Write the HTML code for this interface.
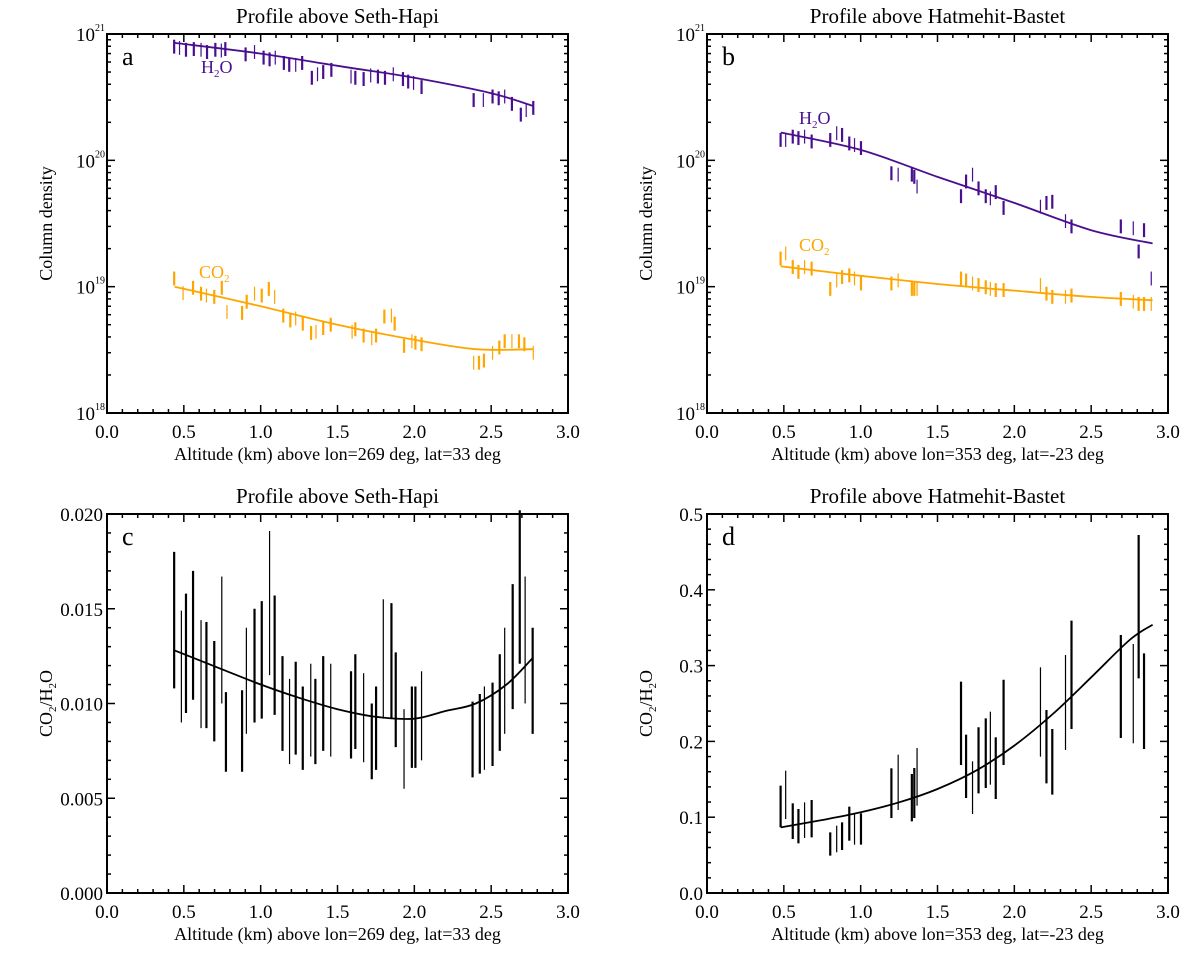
<!DOCTYPE html>
<html><head><meta charset="utf-8"><style>
html,body{margin:0;padding:0;background:#fff}
svg{display:block;font-family:"Liberation Serif",serif}
</style></head><body>
<svg id="chart" width="1200" height="961" viewBox="0 0 1200 961" xmlns="http://www.w3.org/2000/svg"></svg>
<script>
// ---------- Panel a data (Seth-Hapi) ----------
const aH2Ox=[0.437,0.472,0.514,0.565,0.612,0.651,0.705,0.744,0.770,0.902,0.960,1.019,1.058,1.095,1.151,1.186,1.228,1.270,1.333,1.370,1.407,1.460,1.588,1.616,1.670,1.716,1.763,1.809,1.863,1.926,1.960,1.995,2.047,2.386,2.449,2.509,2.549,2.588,2.635,2.693,2.728,2.774];
const aH2Oy=[7.94,7.76,7.5,7.6,7.5,7.2,7.5,7.4,7.6,6.9,7.2,6.5,6.3,6.5,5.9,5.7,5.7,5.9,4.5,4.8,5.0,5.2,4.6,4.5,4.4,4.7,4.6,4.5,4.8,4.4,4.2,4.1,3.8,3.0,3.0,3.2,3.1,3.2,2.8,2.3,2.5,2.6]; // x1e20
const aH2OfitX=[0.44,1.0,1.5,2.0,2.5,2.77];
const aH2OfitY=[8.5,7.0,5.6,4.5,3.4,2.7];
const aCO2x=[0.437,0.495,0.56,0.612,0.647,0.698,0.747,0.781,0.879,0.909,0.960,1.007,1.053,1.091,1.147,1.193,1.228,1.274,1.328,1.360,1.407,1.456,1.595,1.616,1.670,1.723,1.751,1.805,1.851,1.872,1.933,1.984,2.007,2.047,2.386,2.421,2.453,2.509,2.553,2.588,2.635,2.681,2.716,2.774];
const aCO2y=[1.16,0.89,0.98,0.88,0.85,0.83,0.98,0.63,0.62,0.76,0.88,0.85,0.96,0.83,0.59,0.54,0.56,0.51,0.43,0.44,0.47,0.50,0.44,0.46,0.41,0.39,0.41,0.58,0.59,0.51,0.34,0.37,0.36,0.35,0.25,0.25,0.26,0.30,0.33,0.37,0.37,0.37,0.35,0.30]; // x1e19
const aCO2fitX=[0.44,1.0,1.5,2.0,2.4,2.77];
const aCO2fitY=[1.0,0.70,0.50,0.38,0.32,0.32];
// ---------- Panel b data (Hatmehit-Bastet) ----------
const bH2Ox=[0.479,0.512,0.558,0.595,0.635,0.681,0.802,0.844,0.879,0.926,0.960,1.002,1.200,1.244,1.333,1.349,1.367,1.653,1.686,1.728,1.767,1.814,1.844,1.879,1.930,2.170,2.209,2.247,2.333,2.372,2.693,2.774,2.844,2.809,2.891];
const bH2Oy=[1.45,1.45,1.54,1.50,1.54,1.41,1.45,1.64,1.59,1.36,1.32,1.25,0.79,0.77,0.77,0.74,0.62,0.52,0.68,0.77,0.60,0.52,0.50,0.56,0.42,0.43,0.46,0.47,0.33,0.30,0.30,0.29,0.28,0.19,0.116]; // x1e20
const bH2OfitX=[0.48,1.0,1.5,2.0,2.5,2.9];
const bH2OfitY=[1.66,1.21,0.74,0.46,0.28,0.22];
const bCO2x=[0.479,0.512,0.558,0.595,0.635,0.681,0.802,0.844,0.879,0.926,0.960,1.002,1.200,1.244,1.333,1.349,1.367,1.653,1.686,1.728,1.767,1.814,1.844,1.879,1.930,2.170,2.209,2.247,2.333,2.372,2.693,2.774,2.809,2.844,2.891];
const bCO2y=[1.67,1.83,1.43,1.31,1.43,1.39,0.96,1.12,1.19,1.23,1.16,1.06,1.06,1.12,0.96,0.96,0.96,1.16,1.12,1.06,1.03,0.99,0.96,0.94,0.94,1.03,0.88,0.83,0.83,0.85,0.80,0.76,0.73,0.73,0.73]; // x1e19
const bCO2fitX=[0.48,1.0,1.5,2.0,2.5,2.9];
const bCO2fitY=[1.45,1.22,1.05,0.93,0.83,0.78];
// ---------- Panel c data (ratio, Seth-Hapi) ----------
const cX=[0.437,0.484,0.514,0.560,0.612,0.647,0.698,0.747,0.774,0.879,0.907,0.960,1.007,1.058,1.091,1.142,1.188,1.228,1.274,1.326,1.356,1.407,1.456,1.588,1.616,1.670,1.723,1.751,1.798,1.851,1.879,1.933,1.984,2.007,2.047,2.379,2.426,2.456,2.509,2.556,2.588,2.640,2.686,2.721,2.770];
const cHi=[0.0180,0.0149,0.0158,0.0170,0.0144,0.0143,0.0133,0.0167,0.0106,0.0107,0.0140,0.0150,0.0154,0.0191,0.0157,0.0125,0.0113,0.0122,0.0109,0.0121,0.0113,0.0125,0.0121,0.0117,0.0126,0.0116,0.0100,0.0109,0.0155,0.0153,0.0127,0.0097,0.0109,0.0109,0.0117,0.0101,0.0105,0.0109,0.0111,0.0126,0.0140,0.0163,0.0202,0.0167,0.0140];
const cLo=[0.0108,0.0090,0.0095,0.0102,0.0087,0.0087,0.0080,0.0100,0.0064,0.0064,0.0084,0.0090,0.0092,0.0115,0.0094,0.0075,0.0068,0.0073,0.0065,0.0072,0.0068,0.0075,0.0072,0.0071,0.0076,0.0069,0.0060,0.0065,0.0092,0.0092,0.0077,0.0055,0.0066,0.0066,0.0070,0.0061,0.0063,0.0065,0.0067,0.0075,0.0084,0.0097,0.0121,0.0100,0.0084];
const cFitX=[0.44,0.75,1.0,1.25,1.5,1.75,2.0,2.2,2.4,2.6,2.77];
const cFitY=[0.0128,0.0118,0.0110,0.0103,0.0097,0.0093,0.0092,0.0096,0.0100,0.0110,0.0124];
// ---------- Panel d data (ratio, Hatmehit-Bastet) ----------
const dX=[0.479,0.512,0.558,0.595,0.635,0.681,0.802,0.844,0.879,0.926,0.960,1.002,1.200,1.244,1.333,1.349,1.367,1.653,1.686,1.728,1.767,1.814,1.844,1.879,1.930,2.170,2.209,2.247,2.333,2.372,2.693,2.774,2.809,2.844];
const dHi=[0.1416,0.1614,0.1183,0.1108,0.1196,0.1227,0.0800,0.0888,0.0932,0.1139,0.1051,0.1051,0.1645,0.1825,0.1570,0.1649,0.1913,0.2788,0.2089,0.1737,0.2186,0.2304,0.2392,0.2054,0.2814,0.2977,0.2414,0.2164,0.3140,0.3593,0.3404,0.3285,0.4723,0.3162];
const dLo=[0.0866,0.0976,0.0712,0.0655,0.0726,0.0734,0.0493,0.0537,0.0567,0.0690,0.0638,0.0638,0.0989,0.1095,0.0945,0.0989,0.1152,0.1689,0.1253,0.1042,0.1315,0.1385,0.1429,0.1240,0.1689,0.1799,0.1447,0.1297,0.1887,0.2164,0.2045,0.1975,0.2832,0.1900];
const dFitX=[0.48,0.75,1.0,1.25,1.5,1.75,2.0,2.25,2.5,2.75,2.9];
const dFitY=[0.0866,0.0963,0.1064,0.1196,0.1372,0.1614,0.1944,0.2361,0.2845,0.3338,0.354];

const NS="http://www.w3.org/2000/svg";
const svg=document.getElementById('chart');
function el(tag,attrs,parent){const e=document.createElementNS(NS,tag);for(const k in attrs)e.setAttribute(k,attrs[k]);(parent||svg).appendChild(e);return e;}
const PURPLE="#4a0f8f", ORANGE="#ffa500";
const ERR=0.055; // half error-bar length in dex for density panels

function smoothPath(pts){
  let d='M'+pts[0][0].toFixed(1)+','+pts[0][1].toFixed(1);
  for(let i=0;i<pts.length-1;i++){
    const p0=pts[i-1]||pts[i],p1=pts[i],p2=pts[i+1],p3=pts[i+2]||p2;
    const c1x=p1[0]+(p2[0]-p0[0])/6,c1y=p1[1]+(p2[1]-p0[1])/6;
    const c2x=p2[0]-(p3[0]-p1[0])/6,c2y=p2[1]-(p3[1]-p1[1])/6;
    d+=` C${c1x.toFixed(1)},${c1y.toFixed(1)} ${c2x.toFixed(1)},${c2y.toFixed(1)} ${p2[0].toFixed(1)},${p2[1].toFixed(1)}`;
  }
  return d;
}

function panel(p){
  const g=el('g',{});
  
  
  const L=p.x0,R=p.x0+461,T=p.y0,B=p.y0+379;
  const sx=v=>L+(v/3)*(R-L);
  const sy=p.log?(v=>B-(Math.log10(v)-18)/3*(B-T)):(v=>B-(v/p.ymax)*(B-T));
  const t=el('text',{x:(L+R)/2,y:T-11,'font-size':21,'text-anchor':'middle',fill:'#000'},g);
  t.textContent=p.title;
  
  
  const fr=el('rect',{x:L,y:T,width:R-L,height:B-T,fill:'none',stroke:'#000','stroke-width':2},g);
  
  
  for(let i=0;i<=30;i++){
    const v=i/10,x=sx(v),len=(i%5===0)?8:4;
    el('line',{x1:x,y1:B,x2:x,y2:B-len,stroke:'#000','stroke-width':1.5},g);
    el('line',{x1:x,y1:T,x2:x,y2:T+len,stroke:'#000','stroke-width':1.5},g);
    if(i%5===0){
      const tl=el('text',{x:x,y:B+25,'font-size':19,'text-anchor':'middle',fill:'#000'},g);
      tl.textContent=v.toFixed(1);
      
      
    }
  }
  if(p.log){
    for(let d=18;d<=21;d++){
      for(let m=1;m<=9;m++){
        if(d===21&&m>1)break;
        const y=sy(m*Math.pow(10,d)),len=m===1?8:4;
        el('line',{x1:L,y1:y,x2:L+len,y2:y,stroke:'#000','stroke-width':1.5},g);
        el('line',{x1:R,y1:y,x2:R-len,y2:y,stroke:'#000','stroke-width':1.5},g);
        if(m===1){
          const tl=el('text',{x:L-12,y:y+7,'font-size':19,'text-anchor':'end',fill:'#000'},g);
          tl.textContent='10';
          
          
          const sp=el('text',{x:L-12,y:y-3,'font-size':10,'text-anchor':'start',fill:'#000'},g);
          sp.textContent=String(d);
        }
      }
    }
  } else {
    const n=p.nTicks;
    for(let i=0;i<=n;i++){
      const v=p.ymax*i/n,y=sy(v),len=(i%5===0)?8:4;
      el('line',{x1:L,y1:y,x2:L+len,y2:y,stroke:'#000','stroke-width':1.5},g);
      el('line',{x1:R,y1:y,x2:R-len,y2:y,stroke:'#000','stroke-width':1.5},g);
      if(i%5===0){
        const tl=el('text',{x:L-4,y:y+7,'font-size':19,'text-anchor':'end',fill:'#000'},g);
        tl.textContent=v.toFixed(p.dec);
        
        
      }
    }
  }
  const xl=el('text',{x:(L+R)/2,y:B+47,'font-size':18,'text-anchor':'middle',fill:'#000'},g);
  xl.textContent=p.xlabel;
  
  
  const yl=el('text',{transform:`translate(${L-55},${(T+B)/2}) rotate(-90)`,'font-size':18,'text-anchor':'middle',fill:'#000'},g);
  yl.innerHTML=p.ylabel;
  
  
  const pl=el('text',{x:L+15,y:T+31,'font-size':26,fill:'#000'},g);
  pl.textContent=p.letter;
  
  
  p.series.forEach(s=>{
    const sg=el('g',{},g);
    
    
    s.xs.forEach((xv,i)=>{
      let y1,y2;
      if(s.lo){y1=sy(s.hi[i]);y2=sy(s.lo[i]);}
      else{const v=s.ys[i]*s.scale;y1=sy(v*Math.pow(10,ERR));y2=sy(v/Math.pow(10,ERR));}
      const b=el('line',{x1:sx(xv),y1:y1,x2:sx(xv),y2:y2,stroke:s.color,'stroke-width':(i%3===1)?1.2:2.2},sg);
      
      
    });
    const pts=s.fx.map((xv,i)=>[sx(xv),sy(s.fy[i]*(s.scale||1))]);
    const fl=el('path',{d:smoothPath(pts),fill:'none',stroke:s.color,'stroke-width':1.8},sg);
    
    
    if(s.label){
      const lt=el('text',{x:s.lx,y:s.ly,'font-size':18,fill:s.color},sg);
      lt.innerHTML=s.label;
      
      
    }
  });
}

const XL1='Altitude (km) above lon=269 deg, lat=33 deg';
const XL2='Altitude (km) above lon=353 deg, lat=-23 deg';
const RATIO='CO<tspan font-size="11" dy="4">2</tspan><tspan dy="-4">/H</tspan><tspan font-size="11" dy="4">2</tspan><tspan dy="-4">O</tspan>';
const H2O='H<tspan font-size="11" dy="4">2</tspan><tspan dy="-4">O</tspan>';
const CO2='CO<tspan font-size="11" dy="4">2</tspan>';

panel({name:'panel-a',x0:107,y0:34,log:true,title:'Profile above Seth-Hapi',letter:'a',xlabel:XL1,ylabel:'Column density',
  series:[
    {name:'h2o-series',xs:aH2Ox,ys:aH2Oy,scale:1e20,fx:aH2OfitX,fy:aH2OfitY,color:PURPLE,label:H2O,lx:201,ly:73},
    {name:'co2-series',xs:aCO2x,ys:aCO2y,scale:1e19,fx:aCO2fitX,fy:aCO2fitY,color:ORANGE,label:CO2,lx:199,ly:278}]});
panel({name:'panel-b',x0:707,y0:34,log:true,title:'Profile above Hatmehit-Bastet',letter:'b',xlabel:XL2,ylabel:'Column density',
  series:[
    {name:'h2o-series',xs:bH2Ox,ys:bH2Oy,scale:1e20,fx:bH2OfitX,fy:bH2OfitY,color:PURPLE,label:H2O,lx:799,ly:124},
    {name:'co2-series',xs:bCO2x,ys:bCO2y,scale:1e19,fx:bCO2fitX,fy:bCO2fitY,color:ORANGE,label:CO2,lx:799,ly:251}]});
panel({name:'panel-c',x0:107,y0:514,log:false,ymax:0.02,nTicks:20,dec:3,title:'Profile above Seth-Hapi',letter:'c',xlabel:XL1,ylabel:RATIO,
  series:[{name:'ratio-series',xs:cX,hi:cHi,lo:cLo,fx:cFitX,fy:cFitY,scale:1,color:'#000'}]});
panel({name:'panel-d',x0:707,y0:514,log:false,ymax:0.5,nTicks:25,dec:1,title:'Profile above Hatmehit-Bastet',letter:'d',xlabel:XL2,ylabel:RATIO,
  series:[{name:'ratio-series',xs:dX,hi:dHi,lo:dLo,fx:dFitX,fy:dFitY,scale:1,color:'#000'}]});
</script>
</body></html>
